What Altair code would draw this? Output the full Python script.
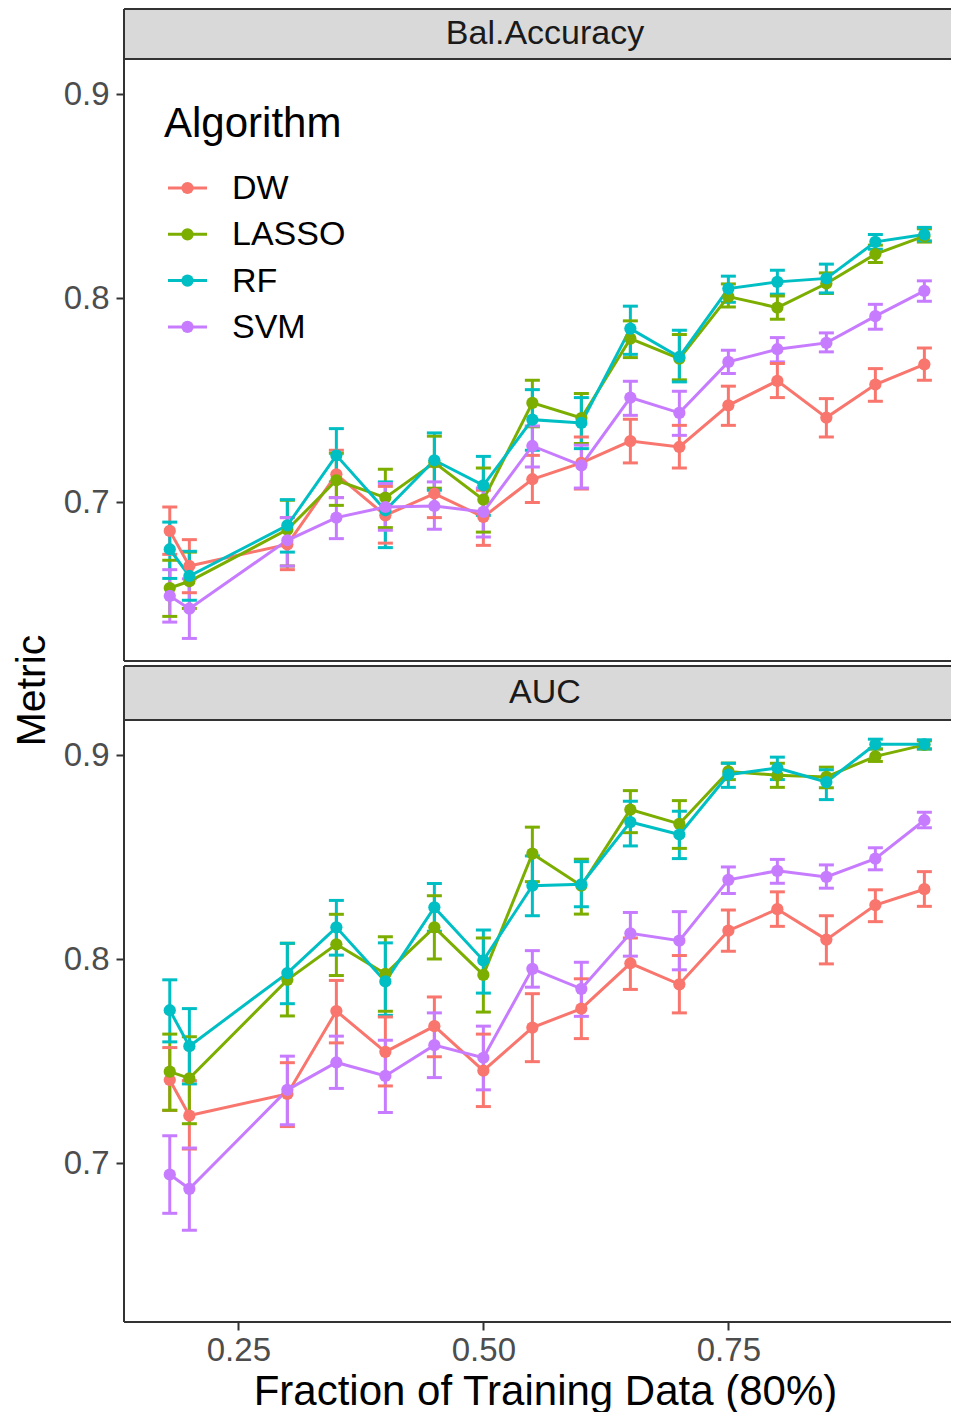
import altair as alt
import pandas as pd

ALGORITHMS = ["DW", "LASSO", "RF", "SVM"]
COLORS = ["#F8766D", "#7CAE00", "#00BFC4", "#C77CFF"]
FRACTION = [0.18, 0.20, 0.30, 0.35, 0.40, 0.45, 0.50, 0.55, 0.60, 0.65, 0.70, 0.75, 0.80, 0.85, 0.90, 0.95]
PANELS = ["Bal.Accuracy", "AUC"]
X_TICKS = [0.25, 0.50, 0.75]
Y_TICKS = [0.7, 0.8, 0.9]

BA_MEAN = {
    "DW":    [0.6860, 0.6688, 0.6794, 0.7137, 0.6936, 0.7043, 0.6928, 0.7113, 0.7193, 0.7300, 0.7271, 0.7475, 0.7595, 0.7415, 0.7577, 0.7676],
    "LASSO": [0.6580, 0.6613, 0.6866, 0.7108, 0.7023, 0.7195, 0.7013, 0.7487, 0.7413, 0.7802, 0.7704, 0.8008, 0.7954, 0.8072, 0.8216, 0.8304],
    "RF":    [0.6770, 0.6639, 0.6887, 0.7230, 0.6961, 0.7206, 0.7083, 0.7405, 0.7389, 0.7851, 0.7712, 0.8047, 0.8080, 0.8097, 0.8276, 0.8312],
    "SVM":   [0.6541, 0.6479, 0.6814, 0.6925, 0.6977, 0.6982, 0.6953, 0.7276, 0.7181, 0.7513, 0.7438, 0.7688, 0.7750, 0.7781, 0.7912, 0.8036],
}
BA_LOW = {
    "DW":    [0.6745, 0.6557, 0.6670, 0.7023, 0.6800, 0.6925, 0.6789, 0.6999, 0.7065, 0.7193, 0.7168, 0.7377, 0.7513, 0.7320, 0.7495, 0.7598],
    "LASSO": [0.6441, 0.6480, 0.6688, 0.6985, 0.6876, 0.7069, 0.6854, 0.7370, 0.7288, 0.7709, 0.7600, 0.7957, 0.7897, 0.8023, 0.8175, 0.8275],
    "RF":    [0.6627, 0.6520, 0.6756, 0.7100, 0.6778, 0.7059, 0.6936, 0.7255, 0.7263, 0.7725, 0.7590, 0.7980, 0.8020, 0.8026, 0.8240, 0.8281],
    "SVM":   [0.6413, 0.6333, 0.6688, 0.6822, 0.6863, 0.6868, 0.6830, 0.7173, 0.7070, 0.7426, 0.7328, 0.7631, 0.7688, 0.7737, 0.7848, 0.7985],
}
BA_HIGH = {
    "DW":    [0.6977, 0.6817, 0.6925, 0.7255, 0.7078, 0.7176, 0.7059, 0.7230, 0.7320, 0.7407, 0.7377, 0.7569, 0.7680, 0.7508, 0.7655, 0.7756],
    "LASSO": [0.6716, 0.6756, 0.7010, 0.7240, 0.7162, 0.7324, 0.7168, 0.7598, 0.7533, 0.7889, 0.7822, 0.8070, 0.8011, 0.8124, 0.8260, 0.8340],
    "RF":    [0.6903, 0.6760, 0.7013, 0.7361, 0.7100, 0.7340, 0.7225, 0.7552, 0.7513, 0.7961, 0.7843, 0.8108, 0.8137, 0.8167, 0.8312, 0.8347],
    "SVM":   [0.6670, 0.6625, 0.6925, 0.7023, 0.7092, 0.7100, 0.7070, 0.7374, 0.7280, 0.7593, 0.7544, 0.7745, 0.7807, 0.7830, 0.7970, 0.8085],
}
AUC_MEAN = {
    "DW":    [0.7408, 0.7234, 0.7340, 0.7746, 0.7546, 0.7672, 0.7454, 0.7665, 0.7758, 0.7980, 0.7877, 0.8140, 0.8245, 0.8096, 0.8265, 0.8343],
    "LASSO": [0.7449, 0.7416, 0.7899, 0.8073, 0.7928, 0.8156, 0.7923, 0.8517, 0.8360, 0.8733, 0.8663, 0.8920, 0.8901, 0.8893, 0.8994, 0.9050],
    "RF":    [0.7750, 0.7574, 0.7932, 0.8156, 0.7891, 0.8254, 0.7994, 0.8360, 0.8367, 0.8672, 0.8611, 0.8904, 0.8937, 0.8868, 0.9053, 0.9053],
    "SVM":   [0.6945, 0.6875, 0.7360, 0.7494, 0.7428, 0.7579, 0.7517, 0.7953, 0.7855, 0.8127, 0.8091, 0.8389, 0.8433, 0.8403, 0.8493, 0.8681],
}
AUC_LOW = {
    "DW":    [0.7259, 0.7070, 0.7180, 0.7590, 0.7379, 0.7522, 0.7278, 0.7498, 0.7611, 0.7852, 0.7737, 0.8039, 0.8161, 0.7977, 0.8184, 0.8259],
    "LASSO": [0.7260, 0.7194, 0.7722, 0.7920, 0.7745, 0.8001, 0.7741, 0.8380, 0.8221, 0.8620, 0.8543, 0.8880, 0.8842, 0.8840, 0.8969, 0.9030],
    "RF":    [0.7595, 0.7389, 0.7782, 0.8020, 0.7725, 0.8137, 0.7834, 0.8213, 0.8257, 0.8555, 0.8493, 0.8842, 0.8880, 0.8782, 0.9030, 0.9030],
    "SVM":   [0.6755, 0.6672, 0.7189, 0.7367, 0.7249, 0.7420, 0.7360, 0.7863, 0.7720, 0.8015, 0.7948, 0.8322, 0.8372, 0.8348, 0.8438, 0.8644],
}
AUC_HIGH = {
    "DW":    [0.7567, 0.7405, 0.7493, 0.7896, 0.7717, 0.7815, 0.7633, 0.7831, 0.7904, 0.8104, 0.8018, 0.8241, 0.8330, 0.8213, 0.8340, 0.8429],
    "LASSO": [0.7633, 0.7620, 0.8078, 0.8220, 0.8110, 0.8311, 0.8104, 0.8647, 0.8490, 0.8826, 0.8777, 0.8961, 0.8960, 0.8941, 0.9030, 0.9070],
    "RF":    [0.7899, 0.7758, 0.8078, 0.8288, 0.8080, 0.8371, 0.8143, 0.8506, 0.8478, 0.8774, 0.8725, 0.8960, 0.8990, 0.8928, 0.9078, 0.9075],
    "SVM":   [0.7135, 0.7075, 0.7525, 0.7623, 0.7603, 0.7737, 0.7672, 0.8042, 0.7985, 0.8229, 0.8233, 0.8452, 0.8489, 0.8462, 0.8546, 0.8720],
}


def long_table(mean, low, high):
    rows = []
    for a in ALGORITHMS:
        for f, m, lo, hi in zip(FRACTION, mean[a], low[a], high[a]):
            rows.append({"Algorithm": a, "Fraction": f, "Mean": m, "Low": lo, "High": hi})
    return pd.DataFrame(rows)


FONT = "Liberation Sans"
BORDER = "#333333"
W = 827
H = 602
PX_PER_UNIT = 980.0
X_LO = 0.1333
X_DOMAIN = [X_LO, X_LO + W / PX_PER_UNIT]
Y_TOP = 0.9172
Y_DOMAIN = [Y_TOP - H / 2041.0, Y_TOP]


def border(x1, x2, y1, y2):
    df = pd.DataFrame({"k": [0]})
    return alt.Chart(df).mark_rule(stroke=BORDER, strokeWidth=2).encode(
        x=alt.value(x1), x2=alt.value(x2), y=alt.value(y1), y2=alt.value(y2))


def legend_layers():
    layers = []
    title_df = pd.DataFrame({"t": ["Algorithm"]})
    layers.append(alt.Chart(title_df).mark_text(
        font=FONT, fontSize=42, color="black", align="left", baseline="alphabetic").encode(
        x=alt.value(40), y=alt.value(78), text="t:N"))
    for i, (a, c) in enumerate(zip(ALGORITHMS, COLORS)):
        yy = 129 + 46.3 * i
        df = pd.DataFrame({"Algorithm": [a]})
        layers.append(alt.Chart(df).mark_rule(stroke=c, strokeWidth=3).encode(
            x=alt.value(44), x2=alt.value(83), y=alt.value(yy)))
        layers.append(alt.Chart(df).mark_circle(size=150, opacity=1, fill=c).encode(
            x=alt.value(63.5), y=alt.value(yy)))
        layers.append(alt.Chart(df).mark_text(
            font=FONT, fontSize=34, color="black", align="left", baseline="middle").encode(
            x=alt.value(108), y=alt.value(yy + 1), text="Algorithm:N"))
    return layers


def make_panel(df, label, strip_h, first):
    xscale = alt.Scale(domain=X_DOMAIN, nice=False, zero=False)
    yscale = alt.Scale(domain=Y_DOMAIN, nice=False, zero=False)
    cscale = alt.Scale(domain=ALGORITHMS, range=COLORS)
    if first:
        x_main = alt.X("Fraction:Q", scale=xscale, axis=None)
        y_axis = alt.Axis(values=Y_TICKS, format=".1f", title="Metric",
                          titleX=-80, titleY=631, titleAngle=270,
                          titleBaseline="alphabetic", titleAlign="center",
                          titleFontSize=41, labelPadding=7)
    else:
        x_main = alt.X("Fraction:Q", scale=xscale,
                       axis=alt.Axis(values=X_TICKS, format=".2f",
                                     title="Fraction of Training Data (80%)",
                                     titleX=545 - 124, titleAlign="center",
                                     titleFontSize=42, titlePadding=4, labelPadding=4))
        y_axis = alt.Axis(values=Y_TICKS, format=".1f", title=None, labelPadding=7)

    base = alt.Chart(df)
    stroke = alt.Stroke("Algorithm:N", scale=cscale, legend=None)

    bars = base.mark_rule(strokeWidth=3).encode(
        x=x_main, y=alt.Y("Low:Q", scale=yscale, axis=y_axis), y2="High:Q", stroke=stroke)
    cap_lo = base.mark_rule(strokeWidth=3, xOffset=-7.5, x2Offset=7.5).encode(
        x=x_main, x2="Fraction:Q", y=alt.Y("Low:Q", scale=yscale, axis=y_axis), stroke=stroke)
    cap_hi = base.mark_rule(strokeWidth=3, xOffset=-7.5, x2Offset=7.5).encode(
        x=x_main, x2="Fraction:Q", y=alt.Y("High:Q", scale=yscale, axis=y_axis), stroke=stroke)
    line = base.mark_line(strokeWidth=3).encode(
        x=x_main, y=alt.Y("Mean:Q", scale=yscale, axis=y_axis), stroke=stroke)
    pts = base.mark_circle(size=150, opacity=1).encode(
        x=x_main, y=alt.Y("Mean:Q", scale=yscale, axis=y_axis),
        fill=alt.Fill("Algorithm:N", scale=cscale, legend=None))

    strip_df = pd.DataFrame({"label": [label]})
    strip_rect = alt.Chart(strip_df).mark_rect(fill="#D9D9D9").encode(
        x=alt.value(0), x2=alt.value(W), y=alt.value(-strip_h), y2=alt.value(0))
    strip_text = alt.Chart(strip_df).mark_text(font=FONT, fontSize=34, color="#1a1a1a",
                                               align="center", baseline="middle").encode(
        x=alt.value(545 - 124), y=alt.value(-strip_h / 2), text="label:N")

    layers = [strip_rect, strip_text,
              border(0, W, -strip_h, -strip_h), border(0, W, 0, 0),
              border(0, W, H, H), border(0, 0, -strip_h, H),
              bars, cap_lo, cap_hi, line, pts]
    if first:
        layers += legend_layers()
    return alt.layer(*layers).properties(width=W, height=H)


top = make_panel(long_table(BA_MEAN, BA_LOW, BA_HIGH), PANELS[0], 50, True)
bottom = make_panel(long_table(AUC_MEAN, AUC_LOW, AUC_HIGH), PANELS[1], 54, False)

chart = alt.vconcat(top, bottom, spacing=59, bounds="flush").properties(
    padding={"left": 3, "top": 0, "right": 0, "bottom": 0},
    background="white",
).configure_view(
    strokeOpacity=0
).configure_axis(
    grid=False, domain=False, tickColor=BORDER, tickWidth=2, tickSize=8,
    labelFont=FONT, labelFontSize=33, labelColor="#4d4d4d",
    titleFont=FONT, titleColor="black", titleFontWeight="normal",
)

chart.save("out.html", embed_options={"renderer": "svg", "actions": False})
